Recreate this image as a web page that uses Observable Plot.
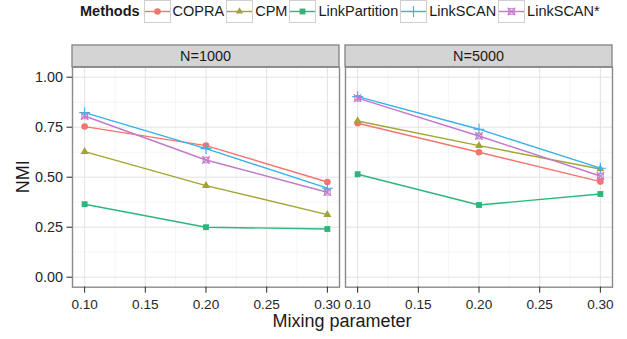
<!DOCTYPE html>
<html><head><meta charset="utf-8">
<script src="https://cdn.jsdelivr.net/npm/d3@7"></script>
<script src="https://cdn.jsdelivr.net/npm/@observablehq/plot@0.6"></script>
<style>
body{margin:0;background:#fff;font-family:"Liberation Sans",Arial,sans-serif;}
#legend{position:relative;height:30px;display:flex;align-items:flex-start;padding-left:80px;box-sizing:border-box;color:#1a1a1a;font-size:14.5px;}
#legend .title{font-weight:bold;height:23px;line-height:23px;margin-right:4px;}
#legend .lab{height:23px;line-height:23px;margin:0 2px 0 2px;}
#legend svg{display:block;}
</style></head><body>
<div id="legend"></div><div id="chart"></div>
<script>
const methods = ["COPRA", "CPM", "LinkPartition", "LinkSCAN", "LinkSCAN*"];
const facets = ["N=1000", "N=5000"];
const mixing = [0.10, 0.20, 0.30];

// N=1000
const copra1000 = [0.753, 0.658, 0.476];
const cpm1000 = [0.628, 0.458, 0.313];
const linkPartition1000 = [0.365, 0.250, 0.241];
const linkScan1000 = [0.823, 0.643, 0.445];
const linkScanStar1000 = [0.806, 0.586, 0.425];
// N=5000
const copra5000 = [0.770, 0.625, 0.478];
const cpm5000 = [0.781, 0.658, 0.541];
const linkPartition5000 = [0.515, 0.361, 0.416];
const linkScan5000 = [0.903, 0.740, 0.545];
const linkScanStar5000 = [0.895, 0.706, 0.506];

const xTicks = [0.10, 0.15, 0.20, 0.25, 0.30];
const xMinor = [0.125, 0.175, 0.225, 0.275];
const yTicks = [0.00, 0.25, 0.50, 0.75, 1.00];
const yMinor = [0.125, 0.375, 0.625, 0.875];

const colors = ["#F2766E", "#A3A533", "#2DB67C", "#38B0EA", "#C479C8"];
const symbols = ["circle", "triangle", "square", "plus", "square2"];

const seriesByFacet = {
  "N=1000": [copra1000, cpm1000, linkPartition1000, linkScan1000, linkScanStar1000],
  "N=5000": [copra5000, cpm5000, linkPartition5000, linkScan5000, linkScanStar5000]
};
const rows = [];
for (const f of facets) {
  seriesByFacet[f].forEach((vals, i) => {
    vals.forEach((v, j) => rows.push({facet: f, method: methods[i], x: mixing[j], y: v}));
  });
}

const font = "Liberation Sans, Arial, sans-serif";
const W = 627, H = 309;
const mL = 72, mR = 15, mT = 36.7, mB = 52.3;

const filled = rows.filter(d => ["COPRA", "CPM", "LinkPartition"].includes(d.method));
const plus = rows.filter(d => d.method === "LinkSCAN");
const star = rows.filter(d => d.method === "LinkSCAN*");

const chart = Plot.plot({
  width: W, height: H,
  marginLeft: mL, marginRight: mR, marginTop: mT, marginBottom: mB,
  style: {fontFamily: font, background: "#fff"},
  fx: {domain: facets, paddingInner: 0.022, paddingOuter: 0, axis: null, label: null},
  x: {domain: [0.09, 0.31], axis: null},
  y: {domain: [-0.05, 1.05], axis: null},
  color: {domain: methods, range: colors},
  symbol: {domain: methods, range: symbols},
  marks: [
    Plot.gridX(xMinor, {stroke: "#F2F2F2", strokeOpacity: 1, strokeWidth: 0.7}),
    Plot.gridY(yMinor, {stroke: "#F2F2F2", strokeOpacity: 1, strokeWidth: 0.7}),
    Plot.gridX(xTicks, {stroke: "#E3E3E3", strokeOpacity: 1, strokeWidth: 1}),
    Plot.gridY(yTicks, {stroke: "#E3E3E3", strokeOpacity: 1, strokeWidth: 1}),
    Plot.lineY(rows, {x: "x", y: "y", fx: "facet", z: "method", stroke: "method", strokeWidth: 1.4}),
    Plot.dot(filled, {x: "x", y: "y", fx: "facet", fill: "method", symbol: "method", r: d => d.method === "CPM" ? 2.7 : 3.3}),
    Plot.dot(plus, {x: "x", y: "y", fx: "facet", stroke: "method", symbol: "method", r: 3.6, strokeWidth: 1.1}),
    Plot.dot(star, {x: "x", y: "y", fx: "facet", stroke: "method", symbol: "method", r: 3.5, strokeWidth: 1.1}),
    Plot.dot(star, {x: "x", y: "y", fx: "facet", stroke: "method", symbol: "times", r: 3.5, strokeWidth: 1.1}),
    Plot.frame({stroke: "#8A8A8A", strokeWidth: 1.4}),
    Plot.axisX(xTicks, {tickFormat: d3.format(".2f"), tickSize: 6, tickPadding: 6, fontSize: 13.6, color: "#262626", label: null}),
    Plot.axisY(yTicks, {anchor: "left", tickFormat: d3.format(".2f"), tickSize: 5.5, tickPadding: 4, fontSize: 14.4, color: "#262626", label: null})
  ]
});

// strips above each facet, using the facet scale
const fx = chart.scale("fx");
const svg = d3.select(chart);
const stripTop = 15;
const g = svg.append("g");
for (const f of facets) {
  const x0 = fx.apply(f);
  const bw = fx.bandwidth;
  g.append("rect").attr("x", x0).attr("y", stripTop).attr("width", bw).attr("height", mT - stripTop)
    .attr("fill", "#D4D4D4").attr("stroke", "#8A8A8A").attr("stroke-width", 1.4);
  g.append("text").attr("x", x0 + bw / 2).attr("y", (stripTop + mT) / 2).attr("dy", "0.36em")
    .attr("text-anchor", "middle").attr("font-size", 14.4).attr("fill", "#1a1a1a").text(f);
}
// axis titles
svg.append("text").attr("x", (mL + W - mR) / 2).attr("y", 297).attr("text-anchor", "middle")
  .attr("font-size", 18).attr("fill", "#1a1a1a").text("Mixing parameter");
svg.append("text").attr("transform", `translate(22.5,${(mT + H - mB) / 2}) rotate(-90)`).attr("dy", "0.36em")
  .attr("text-anchor", "middle").attr("font-size", 18).attr("fill", "#1a1a1a").text("NMI");

document.getElementById("chart").appendChild(chart);

// legend
const leg = d3.select("#legend");
leg.append("div").attr("class", "title").text("Methods");
methods.forEach((m, i) => {
  const s = leg.append("svg").attr("width", 27).attr("height", 23);
  s.append("rect").attr("x", 0.5).attr("y", 0.5).attr("width", 26).attr("height", 22)
    .attr("fill", "#fff").attr("stroke", "#D0D0D0").attr("stroke-width", 1);
  s.append("line").attr("x1", 1).attr("x2", 26).attr("y1", 11.5).attr("y2", 11.5)
    .attr("stroke", colors[i]).attr("stroke-width", 1.4);
  const sym = (name, r) => d3.symbol(
    {circle: d3.symbolCircle, triangle: d3.symbolTriangle, square: d3.symbolSquare,
     plus: d3.symbolPlus, square2: d3.symbolSquare2, times: d3.symbolTimes}[name], Math.PI * r * r)();
  const filledSym = i < 3;
  const r = i === 1 ? 2.7 : (i === 3 ? 3.6 : (i === 4 ? 3.5 : 3.3));
  const p = s.append("path").attr("transform", "translate(13.5,11.5)").attr("d", sym(symbols[i], r));
  if (filledSym) p.attr("fill", colors[i]); else p.attr("fill", "none").attr("stroke", colors[i]).attr("stroke-width", 1.1);
  if (i === 4) s.append("path").attr("transform", "translate(13.5,11.5)").attr("d", sym("times", r))
    .attr("fill", "none").attr("stroke", colors[i]).attr("stroke-width", 1.1);
  leg.append("div").attr("class", "lab").text(m);
});
</script>
</body></html>
